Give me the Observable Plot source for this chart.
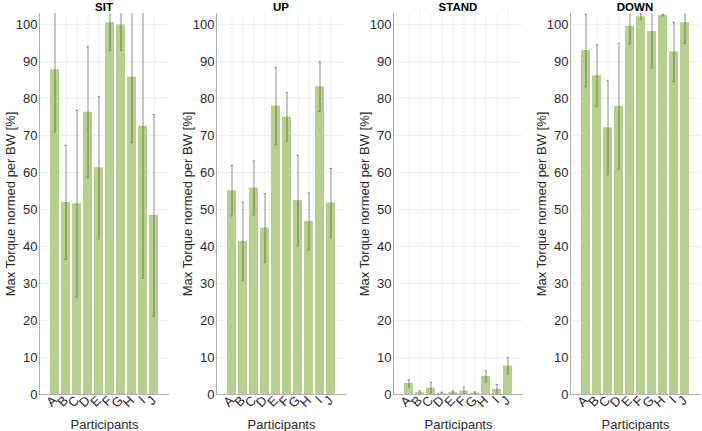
<!DOCTYPE html>
<html>
<head>
<meta charset="utf-8">
<script src="https://cdn.jsdelivr.net/npm/d3@7"></script>
<script src="https://cdn.jsdelivr.net/npm/@observablehq/plot@0.6"></script>
<style>
  html, body { margin: 0; padding: 0; background: #fff; overflow: hidden; }
  #chart { position: relative; width: 702px; height: 431px; overflow: hidden; font-family: "Liberation Sans", Arial, sans-serif; }
  .panel { position: absolute; top: 0; }
  .title { position: absolute; top: 1px; text-align: center; font-weight: bold; font-size: 11.5px; color: #000; line-height: 12px; }
</style>
</head>
<body>
<div id="chart"></div>
<script>
const participants = ["A", "B", "C", "D", "E", "F", "G", "H", "I", "J"];
const yTicks = [0, 10, 20, 30, 40, 50, 60, 70, 80, 90, 100];
const panelTitles = ["SIT", "UP", "STAND", "DOWN"];

const sitMean = [87.8, 51.9, 51.6, 76.3, 61.3, 100.5, 99.9, 85.8, 72.5, 48.4];
const sitErr  = [16.8, 15.4, 25.2, 17.7, 19.2, 7.5, 6.9, 17.7, 41.1, 27.3];

const upMean = [55.1, 41.4, 55.8, 45.0, 78.0, 75.0, 52.4, 46.8, 83.2, 51.8];
const upErr  = [6.8, 10.6, 7.3, 9.3, 10.4, 6.6, 12.2, 7.7, 6.7, 9.3];

const standMean = [3.0, 0.5, 1.7, 0.3, 0.6, 0.9, 0.4, 4.9, 1.4, 7.7];
const standErr  = [1.0, 0.5, 1.6, 0.3, 0.4, 1.1, 0.3, 1.5, 1.3, 2.2];

const downMean = [93.0, 86.2, 72.1, 77.9, 99.5, 102.1, 98.1, 102.5, 92.6, 100.5];
const downErr  = [9.8, 8.3, 12.7, 17.0, 4.7, 0.8, 9.8, 0.2, 8.0, 5.6];

const series = [
  [sitMean, sitErr],
  [upMean, upErr],
  [standMean, standErr],
  [downMean, downErr]
];

const panelWidth = 177;
const chart = document.getElementById("chart");

series.forEach(([means, errs], i) => {
  const rows = participants.map((p, j) => ({p, m: means[j], lo: means[j] - errs[j], hi: means[j] + errs[j]}));
  const left = i * panelWidth;
  const plot = Plot.plot({
    width: panelWidth,
    height: 431,
    marginLeft: 39,
    marginRight: 8,
    marginTop: 13,
    marginBottom: 37,
    style: {fontFamily: "'Liberation Sans', Arial, sans-serif", fontSize: "13px", color: "#2b2b2b", background: "transparent"},
    x: {type: "band", domain: participants, paddingInner: 0.2, paddingOuter: 0.74, label: "Participants", labelArrow: "none", labelAnchor: "center", labelOffset: 34, tickRotate: -45, tickSize: 0, tickPadding: 4},
    y: {domain: [0, 103], ticks: yTicks, label: "Max Torque normed per BW [%]", labelArrow: "none", labelAnchor: "center", labelOffset: 34, tickSize: 0, tickPadding: 2},
    marks: [
      Plot.gridX(participants, {stroke: "#000", strokeOpacity: 0.06}),
      Plot.gridY(yTicks, {stroke: "#000", strokeOpacity: 0.06}),
      Plot.barY(rows, {x: "p", y: "m", fill: "#b7cf8c", clip: true}),
      Plot.ruleX(rows, {x: "p", y1: "lo", y2: "hi", stroke: "#000", strokeOpacity: 0.4, strokeWidth: 1, clip: true}),
      Plot.tickY(rows, {x: "p", y: "lo", stroke: "#000", strokeOpacity: 0.4, insetLeft: 3.5, insetRight: 3.5, clip: true}),
      Plot.tickY(rows, {x: "p", y: "hi", stroke: "#000", strokeOpacity: 0.4, insetLeft: 3.5, insetRight: 3.5, clip: true}),
      Plot.ruleY([0], {stroke: "#b0b0b0"}),
      Plot.frame({anchor: "left", stroke: "#b0b0b0"})
    ]
  });
  plot.classList.add("panel");
  plot.style.left = left + "px";
  chart.appendChild(plot);
  const t = document.createElement("div");
  t.className = "title";
  t.style.left = (left + 39) + "px";
  t.style.width = (panelWidth - 39 - 8) + "px";
  t.textContent = panelTitles[i];
  chart.appendChild(t);
});
</script>
</body>
</html>
